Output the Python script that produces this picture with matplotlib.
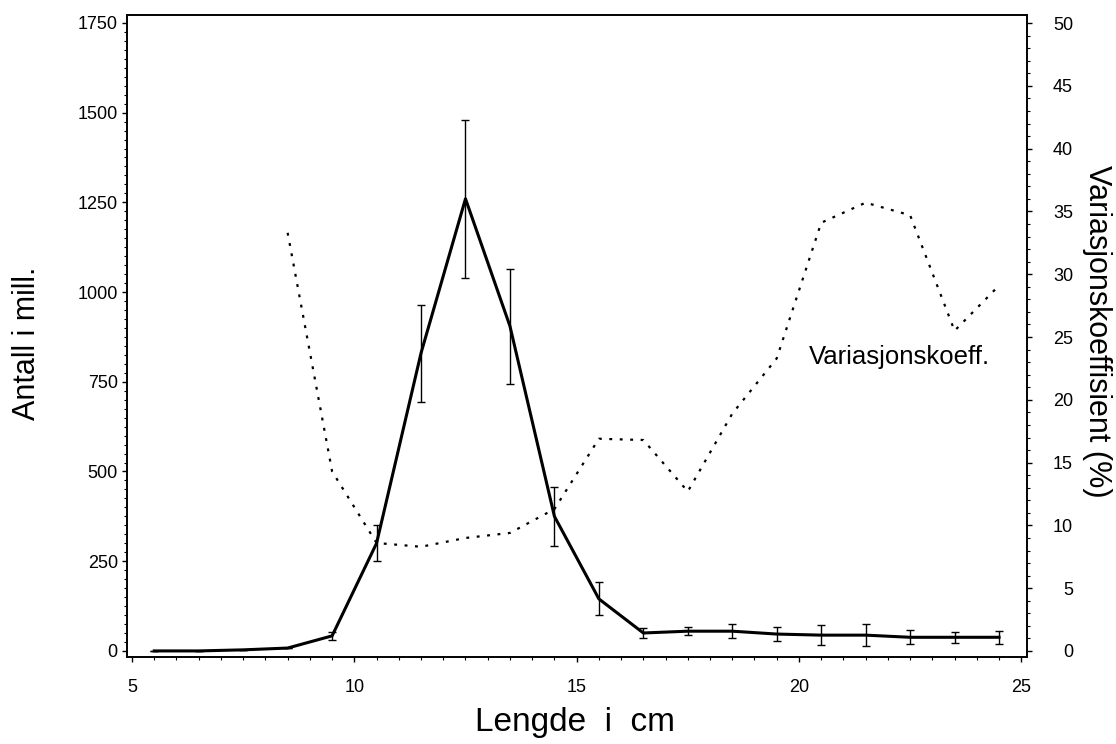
import matplotlib
matplotlib.use("Agg")
import matplotlib.pyplot as plt
from matplotlib.ticker import MultipleLocator

plt.rcParams["font.family"] = ["Liberation Sans", "DejaVu Sans"]

# lengdegrupper (cm) og antall i mill. med feilgrenser
lengde = [5.5, 6.5, 7.5, 8.5, 9.5, 10.5, 11.5, 12.5, 13.5, 14.5,
          15.5, 16.5, 17.5, 18.5, 19.5, 20.5, 21.5, 22.5, 23.5, 24.5]
antall = [0, 0, 3, 8, 42, 300, 830, 1260, 905, 375,
          145, 50, 55, 55, 47, 44, 44, 38, 38, 38]
feil = [0, 0, 0, 0, 11, 50, 135, 220, 160, 82,
        46, 14, 11, 19, 19, 27, 30, 20, 16, 18]

# variasjonskoeffisient (%)
lengde_cv = [8.5, 9.5, 10.5, 11.5, 12.5, 13.5, 14.5, 15.5, 16.5,
             17.5, 18.5, 19.5, 20.5, 21.5, 22.5, 23.5, 24.5]
cv = [33.3, 14.3, 8.6, 8.3, 9.0, 9.4, 11.3, 16.9, 16.8,
      12.7, 18.9, 23.3, 34.1, 35.7, 34.7, 25.5, 29.1]

fig = plt.figure(figsize=(11.16, 7.44), dpi=100)
ax = fig.add_axes([0.1138, 0.1169, 0.8065, 0.8629])
ax2 = ax.twinx()

ax.errorbar(lengde, antall, yerr=feil, color="black", lw=2.2,
            elinewidth=1.0, capsize=3.2, capthick=1.0, zorder=3)
ax2.plot(lengde_cv, cv, color="black", lw=1.6, linestyle=(0, (1.3, 3.4)))

ax.set_xlim(4.887, 25.13)
ax.set_ylim(-17, 1772)
ax2.set_ylim(-0.48, 50.64)

ax.xaxis.set_major_locator(MultipleLocator(5))
ax.xaxis.set_minor_locator(MultipleLocator(0.5))
ax.yaxis.set_major_locator(MultipleLocator(250))
ax.yaxis.set_minor_locator(MultipleLocator(25))
ax2.yaxis.set_major_locator(MultipleLocator(5))
ax2.yaxis.set_minor_locator(MultipleLocator(1))

for a in (ax, ax2):
    for s in a.spines.values():
        s.set_linewidth(1.2)
    a.tick_params(which="major", direction="out", length=3.6, width=1.0, labelsize=13)
    a.tick_params(which="minor", direction="out", length=2.0, width=0.8)

ax.tick_params(axis="x", which="major", pad=12.5)
ax.tick_params(axis="y", which="major", pad=3.0)
ax2.tick_params(axis="y", which="major", pad=29.5)
for lbl in ax2.get_yticklabels():
    lbl.set_horizontalalignment("right")

ax.text(22.25, 819, "Variasjonskoeff.", fontsize=18.5, ha="center", va="center")

fig.text(575 / 1116, 1 - 722 / 744, "Lengde  i  cm", fontsize=24, ha="center", va="center")
fig.text(27 / 1116, 1 - 343 / 744, "Antall i mill.", fontsize=22, rotation=90,
         ha="center", va="center")
fig.text(1097 / 1116, 1 - 331 / 744, "Variasjonskoeffisient (%)", fontsize=22,
         rotation=270, ha="center", va="center")

fig.savefig("out.png", dpi=100)
